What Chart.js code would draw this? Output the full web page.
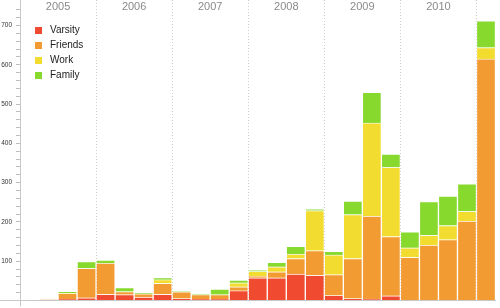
<!DOCTYPE html>
<html>
<head>
<meta charset="utf-8">
<script src="https://cdn.jsdelivr.net/npm/chart.js@4.4.1/dist/chart.umd.min.js"></script>
<style>
  html, body { margin: 0; padding: 0; background: #fff; }
  #wrap { width: 500px; height: 308px; }
</style>
</head>
<body>
<div id="wrap"><canvas id="chart" width="500" height="308"></canvas></div>
<script>
// quarters from 2005 Q1 to 2011 Q1
const quarters = [
  "2005 Q1", "2005 Q2", "2005 Q3", "2005 Q4",
  "2006 Q1", "2006 Q2", "2006 Q3", "2006 Q4",
  "2007 Q1", "2007 Q2", "2007 Q3", "2007 Q4",
  "2008 Q1", "2008 Q2", "2008 Q3", "2008 Q4",
  "2009 Q1", "2009 Q2", "2009 Q3", "2009 Q4",
  "2010 Q1", "2010 Q2", "2010 Q3", "2010 Q4",
  "2011 Q1"
];
const yearLabels = ["2005", "2006", "2007", "2008", "2009", "2010"];

const varsity = [0, 0, 3, 7, 16, 15, 9, 16, 5, 3, 3, 25, 58, 58, 67, 64, 13, 5, 4, 12, 0, 0, 0, 0, 0];
const friends = [0, 2, 15, 75, 79, 8, 8, 28, 17, 12, 12, 10, 4, 15, 40, 63, 53, 102, 211, 151, 110, 141, 155, 202, 615];
const work    = [0, 0, 1, 0, 0, 0, 0, 9, 0, 0, 0, 10, 12, 13, 11, 102, 50, 112, 237, 176, 24, 25, 36, 25, 29];
const family  = [0, 0, 3, 17, 8, 10, 3, 5, 1, 1, 14, 7, 3, 11, 20, 4, 9, 34, 78, 34, 41, 86, 75, 70, 68];

const seriesNames = ["Varsity", "Friends", "Work", "Family"];
const seriesColors = ["#f04a31", "#f39b33", "#f2dc30", "#88d92e"];

const Y_MAX = 765;

Chart.defaults.font.family = "'Liberation Sans', Arial, sans-serif";

// small legend swatches, square sits a bit to the right
function makeSwatch(color) {
  const c = document.createElement("canvas");
  c.width = 20;
  c.height = 7;
  const g = c.getContext("2d");
  g.fillStyle = color;
  g.fillRect(10, 0, 7, 7);
  return c;
}
const legendSwatches = seriesColors.map(makeSwatch);

function toPoints(values) {
  return values.map((v, i) => ({ x: i + 0.5, y: v }));
}

const datasets = [varsity, friends, work, family].map((values, i) => ({
  label: seriesNames[i],
  data: toPoints(values),
  backgroundColor: seriesColors[i],
  borderColor: "rgba(255,255,255,0.3)",
  borderWidth: 1,
  barPercentage: 1,
  categoryPercentage: 1,
}));

// keep the axis boxes from reserving room for overhanging labels
function noPadding(scale) {
  scale.paddingTop = 0;
  scale.paddingBottom = 0;
  scale.paddingLeft = 0;
  scale.paddingRight = 0;
}

new Chart(document.getElementById("chart"), {
  type: "bar",
  data: { datasets: datasets },
  options: {
    responsive: false,
    animation: false,
    layout: { padding: { left: 0, right: 4.5, top: 0, bottom: 1.5 } },
    plugins: {
      tooltip: { enabled: false },
      legend: {
        position: "chartArea",
        align: "start",
        title: { display: true, text: "", font: { size: 10 }, padding: { top: 8, bottom: 0 } },
        labels: {
          font: { size: 10 },
          color: "#222",
          padding: 5,
          usePointStyle: true,
          pointStyleWidth: 20,
          generateLabels: (chart) =>
            Chart.defaults.plugins.legend.labels.generateLabels(chart).map((item, i) => ({
              ...item,
              pointStyle: legendSwatches[i],
            })),
        },
      },
    },
    scales: {
      x: {
        type: "linear",
        position: "bottom",
        stacked: true,
        min: 0,
        max: quarters.length,
        offset: false,
        ticks: { display: false, stepSize: 1 },
        grid: {
          offset: false,
          tickLength: 6,
          color: (ctx) => {
            const v = ctx.tick ? ctx.tick.value : -1;
            return v > 0 && v < quarters.length && v % 4 === 0 ? "#cfcfcf" : "transparent";
          },
          tickColor: (ctx) => (ctx.tick && ctx.tick.value === 0 ? "#c8c8c8" : "transparent"),
        },
        border: {
          display: true,
          color: "#c8c8c8",
          dash: (ctx) => (ctx.tick ? [1, 2] : []),
        },
        afterFit: noPadding,
      },
      // year names along the top, drawn inside the plot
      years: {
        type: "linear",
        position: "top",
        min: 0,
        max: quarters.length,
        offset: false,
        grid: { display: false, offset: false },
        border: { display: false },
        ticks: {
          stepSize: 2,
          autoSkip: false,
          maxRotation: 0,
          mirror: true,
          padding: 0,
          color: "#8a8a8a",
          font: { size: 11 },
          callback: (v) => (v % 4 === 2 ? yearLabels[(v - 2) / 4] : ""),
        },
        afterFit: (scale) => {
          noPadding(scale);
          scale.height = 0;
        },
      },
      y: {
        stacked: true,
        min: 0,
        max: Y_MAX,
        weight: 1,
        ticks: {
          stepSize: 20,
          autoSkip: false,
          padding: 4,
          color: "#333",
          font: { size: 6.5 },
          callback: (v) => (v > 0 && v % 100 === 0 ? v : ""),
        },
        grid: {
          drawOnChartArea: false,
          tickLength: 4,
          tickColor: (ctx) => (ctx.tick && ctx.tick.value < Y_MAX ? "#bdbdbd" : "transparent"),
        },
        border: { display: true, color: "#c8c8c8" },
        afterFit: (scale) => {
          noPadding(scale);
          scale.width = 20;
        },
      },
      // only here to run the baseline out to the left edge
      base: {
        type: "linear",
        position: "left",
        min: 0,
        max: Y_MAX,
        weight: 0,
        ticks: { display: false, stepSize: 1000 },
        grid: {
          drawOnChartArea: false,
          tickLength: 21,
          tickColor: (ctx) => (ctx.tick && ctx.tick.value === 0 ? "#c8c8c8" : "transparent"),
        },
        border: { display: false },
        afterFit: (scale) => {
          noPadding(scale);
          scale.width = 0;
        },
      },
    },
  },
});
</script>
</body>
</html>
